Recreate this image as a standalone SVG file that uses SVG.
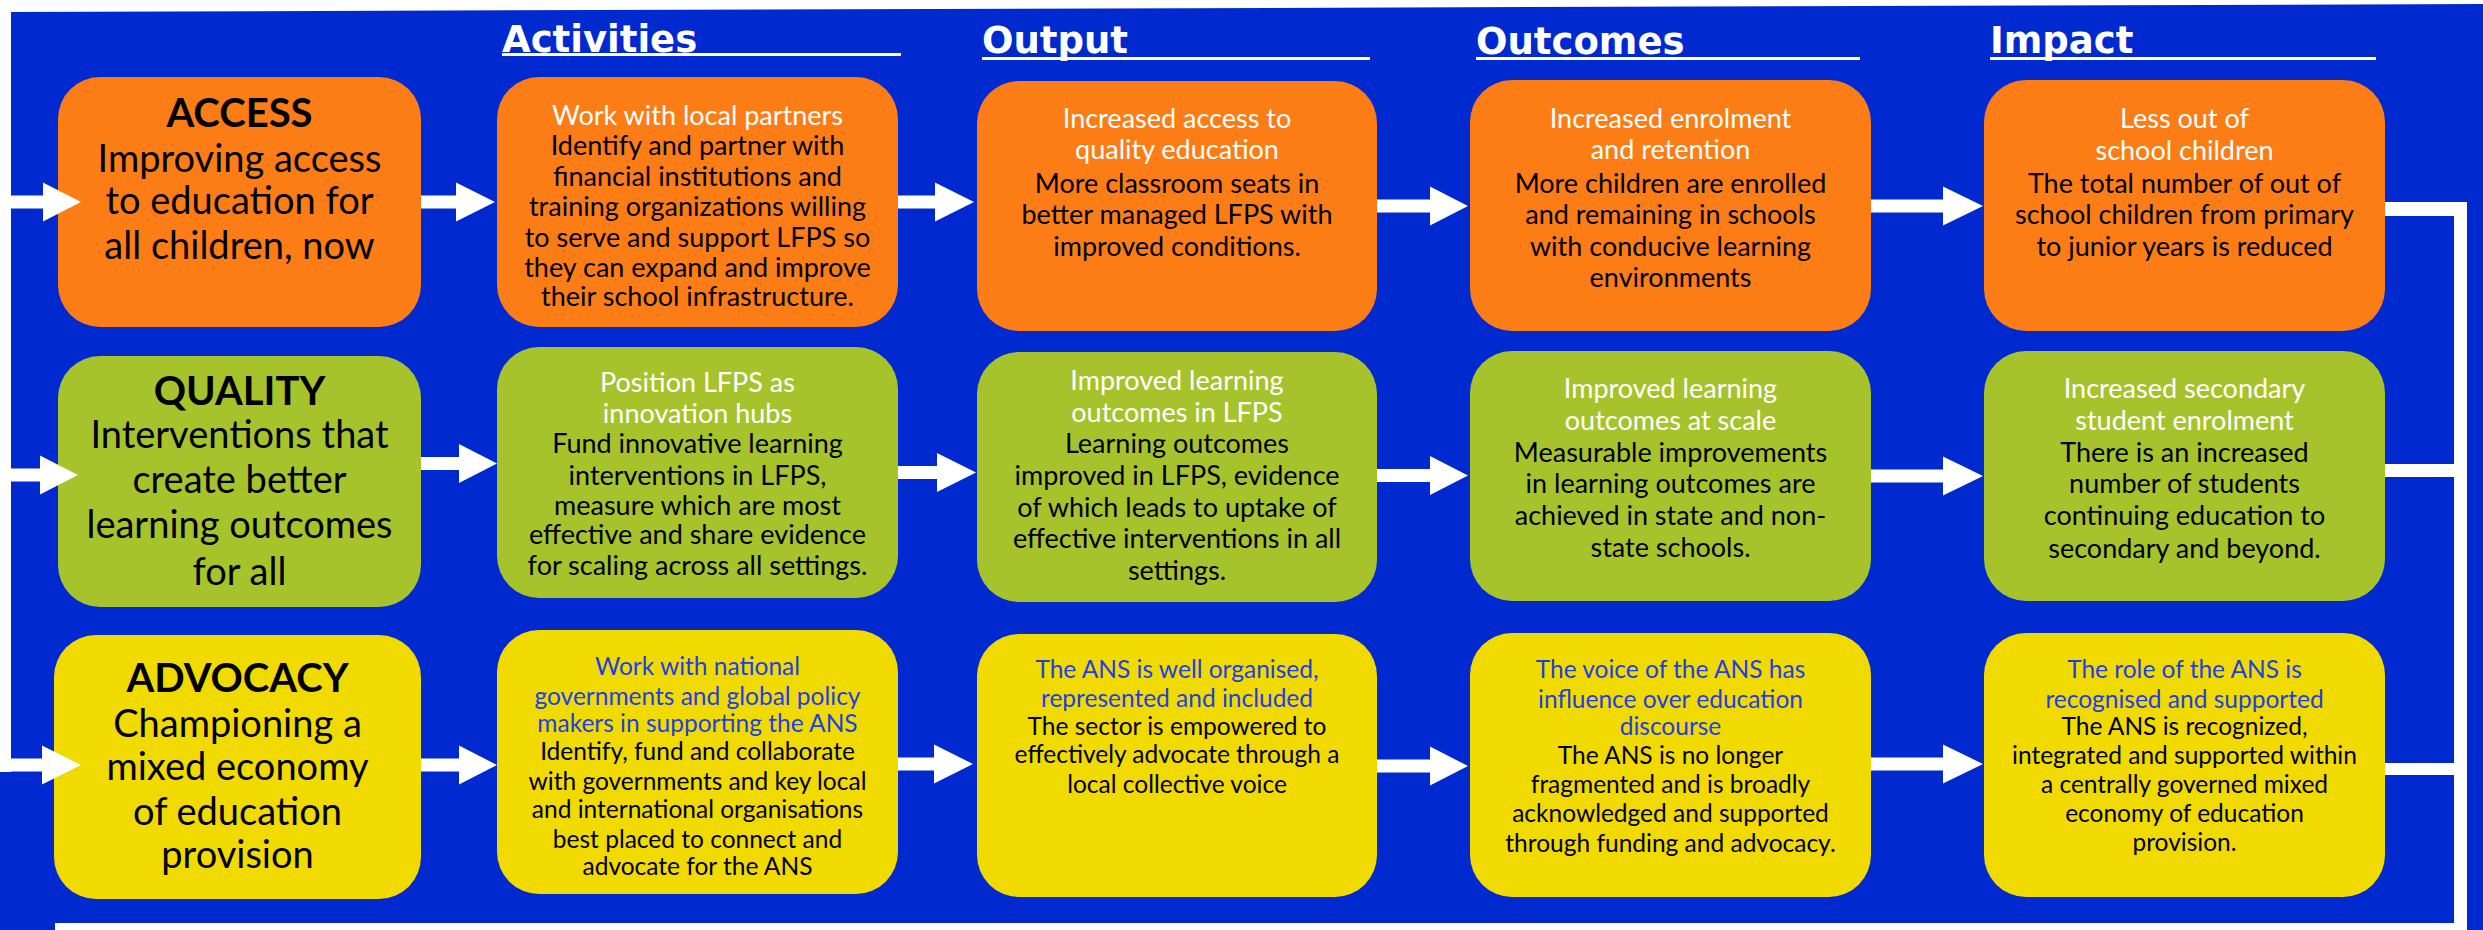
<svg xmlns="http://www.w3.org/2000/svg" width="2483" height="930" viewBox="0 0 2483 930">
<style>
.bg{fill:#0029D0}
.or{fill:#FC7D15}
.gr{fill:#A7C32B}
.ye{fill:#F0DA00}
.hdr{font-family:"DejaVu Sans",sans-serif;font-weight:bold;font-size:37px;fill:#fff}
.ul{fill:#fff}
.t{font-family:Lato,"Liberation Sans",sans-serif;text-anchor:middle;font-size:27px;fill:#000}
.s{font-size:24.5px}
.big{font-size:38px}
.w{fill:#fff}
.bl{fill:#1E3FE3}
.ttl{font-weight:bold;font-size:40px}
.arr{fill:#fff}
</style>
<rect x="0" y="0" width="2483" height="930" fill="#fff"/>
<polygon class="bg" points="0,12 2483,4 2483,930 0,930"/>

<g id="headers">
<text class="hdr" x="502" y="52">Activities</text>
<rect class="ul" x="502" y="53" width="399" height="3"/>
<text class="hdr" x="982" y="53">Output</text>
<rect class="ul" x="982" y="57" width="388" height="3"/>
<text class="hdr" x="1476" y="54">Outcomes</text>
<rect class="ul" x="1476" y="57" width="384" height="3"/>
<text class="hdr" x="1990" y="53">Impact</text>
<rect class="ul" x="1990" y="57" width="386" height="3"/>
</g>

<g id="access">
<rect class="or" x="58" y="77" width="363" height="250" rx="42"/>
<text class="t big"><tspan class="ttl" x="239.5" y="127">ACCESS</tspan><tspan x="239.5" y="172">Improving access</tspan><tspan x="239.5" y="214">to education for</tspan><tspan x="239.5" y="259">all children, now</tspan></text>
</g>
<g id="access-activities">
<rect class="or" x="497" y="77" width="401" height="250" rx="42"/>
<text class="t"><tspan class="w" x="697.5" y="125">Work with local partners</tspan><tspan x="697.5" y="155">Identify and partner with</tspan><tspan x="697.5" y="186">financial institutions and</tspan><tspan x="697.5" y="216">training organizations willing</tspan><tspan x="697.5" y="247">to serve and support LFPS so</tspan><tspan x="697.5" y="277">they can expand and improve</tspan><tspan x="697.5" y="306">their school infrastructure.</tspan></text>
</g>
<g id="access-output">
<rect class="or" x="977" y="81" width="400" height="250" rx="42"/>
<text class="t"><tspan class="w" x="1177" y="128">Increased access to</tspan><tspan class="w" x="1177" y="159">quality education</tspan><tspan x="1177" y="193">More classroom seats in</tspan><tspan x="1177" y="224">better managed LFPS with</tspan><tspan x="1177" y="256">improved conditions.</tspan></text>
</g>
<g id="access-outcomes">
<rect class="or" x="1470" y="80" width="401" height="251" rx="42"/>
<text class="t"><tspan class="w" x="1670.5" y="128">Increased enrolment</tspan><tspan class="w" x="1670.5" y="159">and retention</tspan><tspan x="1670.5" y="193">More children are enrolled</tspan><tspan x="1670.5" y="224">and remaining in schools</tspan><tspan x="1670.5" y="256">with conducive learning</tspan><tspan x="1670.5" y="287">environments</tspan></text>
</g>
<g id="access-impact">
<rect class="or" x="1984" y="80" width="401" height="251" rx="42"/>
<text class="t"><tspan class="w" x="2184.5" y="128">Less out of</tspan><tspan class="w" x="2184.5" y="160">school children</tspan><tspan x="2184.5" y="193">The total number of out of</tspan><tspan x="2184.5" y="224">school children from primary</tspan><tspan x="2184.5" y="256">to junior years is reduced</tspan></text>
</g>

<g id="quality">
<rect class="gr" x="58" y="356" width="363" height="251" rx="42"/>
<text class="t big"><tspan class="ttl" x="239.5" y="405">QUALITY</tspan><tspan x="239.5" y="448">Interventions that</tspan><tspan x="239.5" y="493">create better</tspan><tspan x="239.5" y="538">learning outcomes</tspan><tspan x="239.5" y="585">for all</tspan></text>
</g>
<g id="quality-activities">
<rect class="gr" x="497" y="347" width="401" height="251" rx="42"/>
<text class="t"><tspan class="w" x="697.5" y="392">Position LFPS as</tspan><tspan class="w" x="697.5" y="423">innovation hubs</tspan><tspan x="697.5" y="453">Fund innovative learning</tspan><tspan x="697.5" y="485">interventions in LFPS,</tspan><tspan x="697.5" y="515">measure which are most</tspan><tspan x="697.5" y="544">effective and share evidence</tspan><tspan x="697.5" y="575">for scaling across all settings.</tspan></text>
</g>
<g id="quality-output">
<rect class="gr" x="977" y="352" width="400" height="250" rx="42"/>
<text class="t"><tspan class="w" x="1177" y="390">Improved learning</tspan><tspan class="w" x="1177" y="422">outcomes in LFPS</tspan><tspan x="1177" y="453">Learning outcomes</tspan><tspan x="1177" y="485">improved in LFPS, evidence</tspan><tspan x="1177" y="517">of which leads to uptake of</tspan><tspan x="1177" y="548">effective interventions in all</tspan><tspan x="1177" y="580">settings.</tspan></text>
</g>
<g id="quality-outcomes">
<rect class="gr" x="1470" y="351" width="401" height="250" rx="42"/>
<text class="t"><tspan class="w" x="1670.5" y="398">Improved learning</tspan><tspan class="w" x="1670.5" y="430">outcomes at scale</tspan><tspan x="1670.5" y="462">Measurable improvements</tspan><tspan x="1670.5" y="493">in learning outcomes are</tspan><tspan x="1670.5" y="525">achieved in state and non-</tspan><tspan x="1670.5" y="557">state schools.</tspan></text>
</g>
<g id="quality-impact">
<rect class="gr" x="1984" y="351" width="401" height="250" rx="42"/>
<text class="t"><tspan class="w" x="2184.5" y="398">Increased secondary</tspan><tspan class="w" x="2184.5" y="430">student enrolment</tspan><tspan x="2184.5" y="462">There is an increased</tspan><tspan x="2184.5" y="493">number of students</tspan><tspan x="2184.5" y="525">continuing education to</tspan><tspan x="2184.5" y="558">secondary and beyond.</tspan></text>
</g>

<g id="advocacy">
<rect class="ye" x="54" y="635" width="367" height="264" rx="42"/>
<text class="t big"><tspan class="ttl" x="237.5" y="692">ADVOCACY</tspan><tspan x="237.5" y="737">Championing a</tspan><tspan x="237.5" y="780">mixed economy</tspan><tspan x="237.5" y="825">of education</tspan><tspan x="237.5" y="868">provision</tspan></text>
</g>
<g id="advocacy-activities">
<rect class="ye" x="497" y="630" width="401" height="264" rx="42"/>
<text class="t s"><tspan class="bl" x="697.5" y="675">Work with national</tspan><tspan class="bl" x="697.5" y="705">governments and global policy</tspan><tspan class="bl" x="697.5" y="732">makers in supporting the ANS</tspan><tspan x="697.5" y="760">Identify, fund and collaborate</tspan><tspan x="697.5" y="790">with governments and key local</tspan><tspan x="697.5" y="818">and international organisations</tspan><tspan x="697.5" y="848">best placed to connect and</tspan><tspan x="697.5" y="875">advocate for the ANS</tspan></text>
</g>
<g id="advocacy-output">
<rect class="ye" x="977" y="634" width="400" height="263" rx="42"/>
<text class="t s"><tspan class="bl" x="1177" y="678">The ANS is well organised,</tspan><tspan class="bl" x="1177" y="707">represented and included</tspan><tspan x="1177" y="735">The sector is empowered to</tspan><tspan x="1177" y="763">effectively advocate through a</tspan><tspan x="1177" y="793">local collective voice</tspan></text>
</g>
<g id="advocacy-outcomes">
<rect class="ye" x="1470" y="633" width="401" height="264" rx="42"/>
<text class="t s"><tspan class="bl" x="1670.5" y="678">The voice of the ANS has</tspan><tspan class="bl" x="1670.5" y="708">influence over education</tspan><tspan class="bl" x="1670.5" y="735">discourse</tspan><tspan x="1670.5" y="764">The ANS is no longer</tspan><tspan x="1670.5" y="793">fragmented and is broadly</tspan><tspan x="1670.5" y="822">acknowledged and supported</tspan><tspan x="1670.5" y="852">through funding and advocacy.</tspan></text>
</g>
<g id="advocacy-impact">
<rect class="ye" x="1984" y="633" width="401" height="264" rx="42"/>
<text class="t s"><tspan class="bl" x="2184.5" y="678">The role of the ANS is</tspan><tspan class="bl" x="2184.5" y="708">recognised and supported</tspan><tspan x="2184.5" y="735">The ANS is recognized,</tspan><tspan x="2184.5" y="764">integrated and supported within</tspan><tspan x="2184.5" y="793">a centrally governed mixed</tspan><tspan x="2184.5" y="822">economy of education</tspan><tspan x="2184.5" y="851">provision.</tspan></text>
</g>

<g id="connectors">
<rect class="arr" x="0" y="0" width="11" height="772"/>
<path class="arr" d="M0 195.5H43V182.5L81 202L43 221.5V208.5H0Z"/>
<path class="arr" d="M421 195.5H456V182.5L495 202L456 221.5V208.5H421Z"/>
<path class="arr" d="M898 195.5H935V182.5L974 202L935 221.5V208.5H898Z"/>
<path class="arr" d="M1377 199.5H1430V186.5L1468 206L1430 225.5V212.5H1377Z"/>
<path class="arr" d="M1871 199.5H1943V186.5L1983 206L1943 225.5V212.5H1871Z"/>
<path class="arr" d="M0 468.5H40V455.5L78 475L40 494.5V481.5H0Z"/>
<path class="arr" d="M421 457H459V444L497 463.5L459 483V470H421Z"/>
<path class="arr" d="M898 466H937V453L976 472.5L937 492V479H898Z"/>
<path class="arr" d="M1377 469H1430V456L1468 475.5L1430 495V482H1377Z"/>
<path class="arr" d="M1871 469.5H1943V456.5L1983 476L1943 495.5V482.5H1871Z"/>
<path class="arr" d="M0 758.5H42V745.5L81 765L42 784.5V771.5H0Z"/>
<path class="arr" d="M421 758.5H459V745.5L497 765L459 784.5V771.5H421Z"/>
<path class="arr" d="M898 757.5H934V744.5L973 764L934 783.5V770.5H898Z"/>
<path class="arr" d="M1377 759.5H1430V746.5L1468 766L1430 785.5V772.5H1377Z"/>
<path class="arr" d="M1871 757.5H1943V744.5L1983 764L1943 783.5V770.5H1871Z"/>
<path class="arr" d="M2385 202H2467V930H2454V216H2385Z"/>
<rect class="arr" x="2385" y="464" width="69" height="13"/>
<rect class="arr" x="2385" y="763" width="69" height="12"/>
<rect class="arr" x="55" y="923" width="2412" height="7"/>
</g>
</svg>
